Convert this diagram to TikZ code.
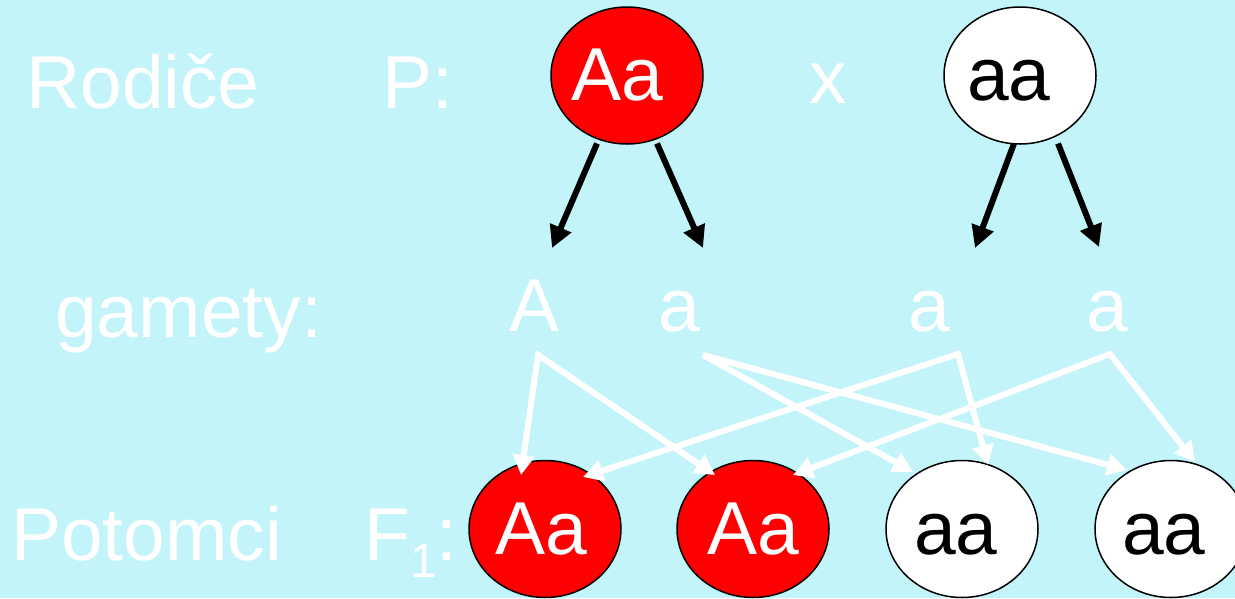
\documentclass[tikz,border=0pt]{standalone}
\usepackage{fontspec}
\setmainfont{Liberation Sans}
\usetikzlibrary{shapes.geometric,arrows.meta,calc}
\definecolor{bg}{HTML}{C2F4FA}
\begin{document}
\begin{tikzpicture}[x=1pt,y=-1pt,
  lbl/.style={text=white,font=\fontsize{75}{80}\selectfont,inner sep=0pt,anchor=base west},
  redov/.style={ellipse,draw=black,line width=1.5pt,fill=red,text=white,minimum width=152pt,minimum height=137pt,inner sep=0pt,font=\fontsize{75}{80}\selectfont},
  whov/.style={redov,fill=white,text=black},
  blk/.style={line width=6pt,-{Triangle[length=22pt,width=22pt]}},
  wht/.style={draw=white,line width=6pt,line join=miter,miter limit=3,{Triangle[length=20pt,width=21pt]}-{Triangle[length=20pt,width=21pt]}}]
\fill[bg] (0,0) rectangle (1235,598);
\useasboundingbox (0,0) rectangle (1235,598);
\clip (0,0) rectangle (1235,598);
% labels
\node[lbl] (rod) at (26,108) {Rodiče};
\node[lbl] (P) at (382,108) {P:};
\node[lbl] (x) at (809,103) {x};
\node[lbl] (gam) at (55,337) {gamety:};
\node[lbl] (gA) at (509,331) {A};
\node[lbl] (ga1) at (658,331) {a};
\node[lbl] (ga2) at (908,331) {a};
\node[lbl] (ga3) at (1086,331) {a};
\node[lbl] (pot) at (11,560) {Potomci};
\node[lbl] (F) at (364,560) {F\raisebox{-17pt}{\fontsize{48}{48}\selectfont 1}:};
% coordinates
\coordinate (tA) at (552,248);
\coordinate (ta1) at (703,248);
\coordinate (ta2) at (975,248);
\coordinate (ta3) at (1099,247);
\coordinate (sA) at (538,355);
\coordinate (sa1) at (703,355);
\coordinate (sa2) at (958,354);
\coordinate (sa3) at (1110,354);
% parents positions
\coordinate (pAac) at (627,75.5);
\coordinate (paac) at (1020,75.5);
% black arrows
\draw[blk] ($(pAac)+(-30,68)$) -- (tA);
\draw[blk] ($(pAac)+(30,68)$) -- (ta1);
\draw[blk] ($(paac)+(-6,68)$) -- (ta2);
\draw[blk] ($(paac)+(38,68)$) -- (ta3);
% ellipses
\node[redov] (pAa) at (pAac) {\hspace*{-20pt}Aa\vphantom{A}};
\node[whov] (paa) at (paac) {\hspace*{-22pt}aa\vphantom{A}};
\node[redov] (f1) at (545,529) {\hspace*{-8pt}Aa\vphantom{A}};
\node[redov] (f2) at (753,529) {Aa\vphantom{A}};
\node[whov] (f3) at (962,529) {\hspace*{-12pt}aa\vphantom{A}};
\node[whov] (f4) at (1171,529) {\hspace*{-14pt}aa\vphantom{A}};
% white arrows
\draw[wht] ($(f1)+(-24,-54)$) -- (sA) -- ($(f2)+(-38,-54)$);
\draw[wht] ($(f3)+(-49,-57)$) -- (sa1) -- ($(f4)+(-44,-59)$);
\draw[wht] ($(f1)+(38,-52)$) -- (sa2) -- ($(f3)+(26,-64)$);
\draw[wht] ($(f2)+(40,-54)$) -- (sa3) -- ($(f4)+(24,-67)$);
\end{tikzpicture}
\end{document}
